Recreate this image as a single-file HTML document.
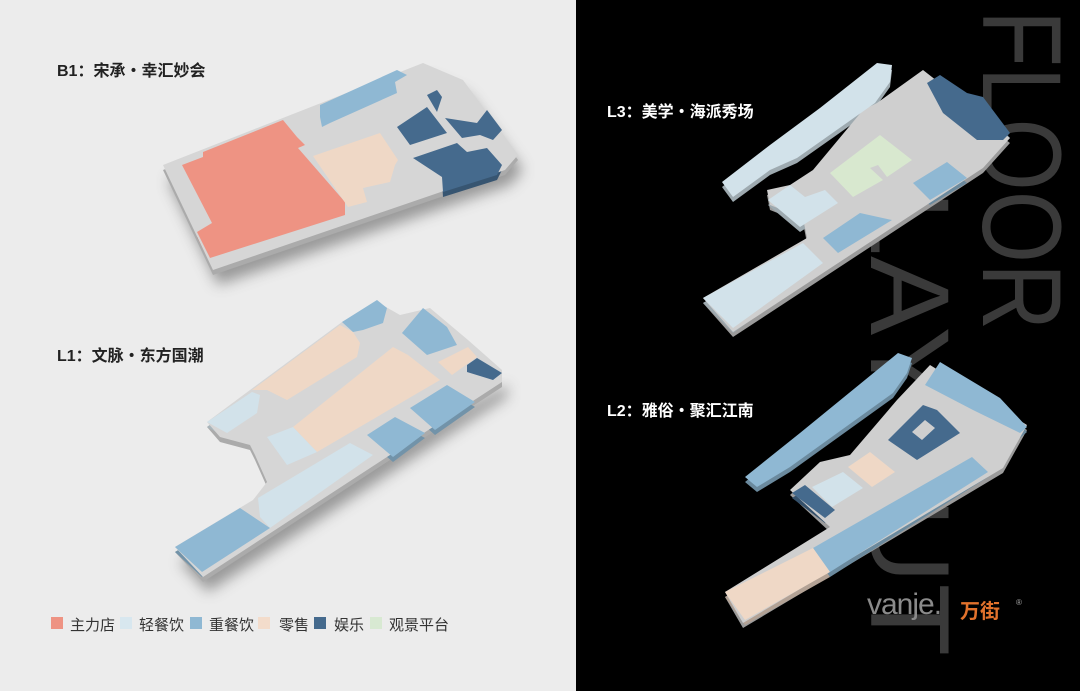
<!DOCTYPE html>
<html><head><meta charset="utf-8"><style>
html,body{margin:0;padding:0}
body{width:1080px;height:691px;position:relative;overflow:hidden;background:#000;font-family:"Liberation Sans","Noto Sans CJK SC",sans-serif}
#left{position:absolute;left:0;top:0;width:576px;height:691px;background:#ececec}
.big{position:absolute;font-size:112px;line-height:112px;color:#3a3a3a;white-space:nowrap;transform-origin:0 0}
.lbl{position:absolute;font-size:16px;font-weight:bold;white-space:nowrap}
.leg{position:absolute;top:614px;font-size:15px;color:#333;white-space:nowrap}
.sq{position:absolute;top:617px;width:12px;height:12px}
svg{position:absolute;left:0;top:0}
</style></head><body>
<div id="left"></div>
<div class="big" style="left:1077px;top:10px;transform:rotate(90deg) scaleX(0.83)">FLOOR</div>
<div class="big" style="left:965px;top:190px;transform:rotate(90deg) scaleX(1.06)">LAYOUT</div>

<svg width="1080" height="691" viewBox="0 0 1080 691">
<defs>
<filter id="bl" x="-20%" y="-20%" width="140%" height="140%"><feGaussianBlur stdDeviation="7"/></filter>
<g id="b1">
<polygon fill="#d6d6d6" points="163,165 423,63 463,80 518,155 505,170 213,270"/>
<polygon fill="#ee9383" points="182,165 203,157 203,152 283,120 297,137 305,145 298,148 345,202 345,215 210,258 197,232 212,223"/>
<polygon fill="#efd8c6" points="313,156 380,133 398,160 395,165 390,182 363,188 367,202 348,207"/>
<polygon fill="#8fb8d3" points="320,105 397,70 407,75 395,82 397,93 330,123 322,127 320,117"/>
<polygon fill="#456a8d" points="397,127 427,107 447,133 410,145"/>
<polygon fill="#456a8d" points="427,95 437,90 442,97 437,112"/>
<polygon fill="#456a8d" points="445,118 477,123 487,110 502,130 493,140 480,135 462,138"/>
<polygon fill="#456a8d" points="413,158 457,143 467,152 487,148 502,165 497,175 443,192 442,177"/>
</g>
<g id="l1">
<polygon fill="#d6d6d6" points="175,547 253,500 267,482 255,455 250,445 220,437 207,422 250,390 342,322 377,302 400,315 430,308 468,340 502,370 502,382 203,577"/>
<polygon fill="#efd8c6" points="252,390 340,325 353,332 360,343 357,357 287,400 267,390"/>
<polygon fill="#efd8c6" points="293,427 393,347 408,355 440,380 317,452"/>
<polygon fill="#d2e2ea" points="207,422 252,392 260,395 257,413 227,433"/>
<polygon fill="#d2e2ea" points="267,437 293,427 317,452 287,465"/>
<polygon fill="#d2e2ea" points="258,498 350,443 373,455 270,528 260,517"/>
<polygon fill="#8fb8d3" points="175,547 240,508 270,528 202,572"/>
<polygon fill="#8fb8d3" points="342,322 377,300 387,308 383,323 363,330 353,332"/>
<polygon fill="#8fb8d3" points="402,333 423,308 447,327 457,345 427,355"/>
<polygon fill="#8fb8d3" points="367,435 395,417 425,433 393,457"/>
<polygon fill="#8fb8d3" points="410,408 447,385 475,402 435,430"/>
<polygon fill="#efd8c6" points="438,362 468,347 477,357 452,375"/>
<polygon fill="#456a8d" points="467,365 477,358 502,373 493,380 467,372"/>
</g>
<g id="l3">
<polygon fill="#cfcfcf" points="703,298 807,238 803,218 770,205 767,190 790,185 813,170 863,110 877,103 923,70 1010,138 983,168 733,332"/>
<polygon fill="#d2e2ea" points="722,182 770,145 820,108 877,63 892,65 890,82 875,103 797,158 770,170 733,197"/>
<polygon fill="#d2e2ea" points="768,200 790,185 805,197 825,190 838,203 800,227"/>
<polygon fill="#d2e2ea" points="703,298 803,243 823,263 733,328"/>
<polygon fill="#d8e8cf" points="830,173 880,135 912,160 887,177 878,165 870,168 883,180 853,197"/>
<polygon fill="#8fb8d3" points="823,238 860,213 892,220 838,253"/>
<polygon fill="#8fb8d3" points="913,183 947,162 967,178 930,200"/>
<polygon fill="#456a8d" points="927,83 940,75 967,93 983,97 1010,133 1003,140 977,140 943,113"/>
</g>
<g id="l2">
<polygon fill="#cfcfcf" points="725,592 830,527 790,490 820,462 850,455 897,400 930,365 1027,425 1003,468 743,623"/>
<polygon fill="#8fb8d3" points="745,477 800,433 898,353 912,358 907,373 893,393 790,467 757,487"/>
<polygon fill="#8fb8d3" points="925,385 940,362 1000,398 1027,427 1020,433 973,410"/>
<polygon fill="#456a8d" points="888,440 923,405 937,410 960,433 917,460"/>
<polygon fill="#cfcfcf" points="912,432 925,420 935,428 922,440"/>
<polygon fill="#efd8c6" points="848,467 870,452 895,472 872,487"/>
<polygon fill="#d2e2ea" points="812,487 843,472 863,488 832,507"/>
<polygon fill="#456a8d" points="792,493 805,485 835,510 825,518"/>
<polygon fill="#8fb8d3" points="813,548 972,457 988,472 830,572"/>
<polygon fill="#efd8c6" points="725,592 813,548 830,572 745,620"/>
</g>
</defs>
<g filter="url(#bl)" opacity="0.55">
<polygon fill="#555" points="168,180 428,78 468,95 523,170 510,185 218,285"/>
<polygon fill="#555" points="180,562 258,515 507,385 507,397 208,592"/>
</g>
<use href="#b1" transform="translate(0,5)" style="filter:brightness(0.8)"/>
<use href="#b1"/>
<use href="#l1" transform="translate(0,5)" style="filter:brightness(0.8)"/>
<use href="#l1"/>
<use href="#l3" transform="translate(0,5)" style="filter:brightness(0.75)"/>
<use href="#l3"/>
<use href="#l2" transform="translate(0,5)" style="filter:brightness(0.75)"/>
<use href="#l2"/>
</svg>

<div class="lbl" style="left:57px;top:57px;color:#222">B1：宋承・幸汇妙会</div>
<div class="lbl" style="left:57px;top:342px;color:#222">L1：文脉・东方国潮</div>
<div class="lbl" style="left:607px;top:98px;color:#fff">L3：美学・海派秀场</div>
<div class="lbl" style="left:607px;top:397px;color:#fff">L2：雅俗・聚汇江南</div>

<div class="sq" style="left:51px;background:#ee9383"></div><div class="leg" style="left:70px">主力店</div>
<div class="sq" style="left:120px;background:#d8e7ef"></div><div class="leg" style="left:139px">轻餐饮</div>
<div class="sq" style="left:190px;background:#8fb8d3"></div><div class="leg" style="left:209px">重餐饮</div>
<div class="sq" style="left:258px;background:#f3dccb"></div><div class="leg" style="left:279px">零售</div>
<div class="sq" style="left:314px;background:#456a8d"></div><div class="leg" style="left:334px">娱乐</div>
<div class="sq" style="left:370px;background:#d8e9d2"></div><div class="leg" style="left:389px">观景平台</div>

<div style="position:absolute;left:867px;top:588px;font-size:30px;color:#8a8a8a;white-space:nowrap;letter-spacing:-1px">vanje.</div>
<div style="position:absolute;left:960px;top:595px;font-size:20px;color:#e2722c;font-weight:bold;white-space:nowrap">万街</div>
<div style="position:absolute;left:1016px;top:598px;font-size:8px;color:#aaa">®</div>
</body></html>
